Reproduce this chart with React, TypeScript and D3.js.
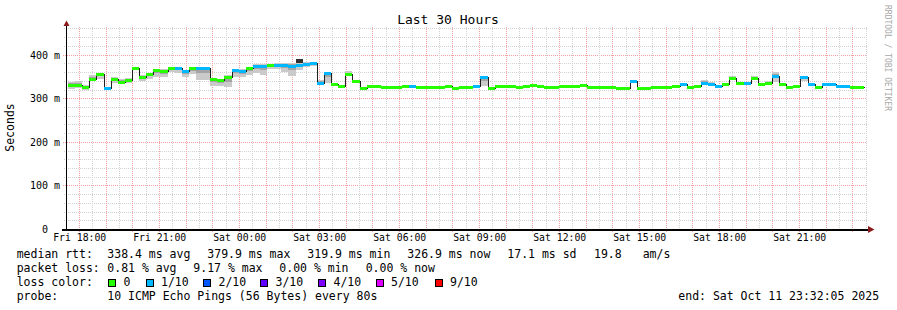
import React from "react";
import * as d3 from "d3";

const W = 897;
const H = 310;

const startTime = new Date(2025, 9, 10, 17, 32, 5);
const endTime = new Date(2025, 9, 11, 23, 32, 5);
const firstBin = new Date(2025, 9, 10, 17, 35, 28);
const binMinutes = 16;

// median rtt per 16-min bin (ms)
const medians = [
  331, 330, 326, 345, 355, 323, 344, 338, 342, 370,
  348, 355, 365, 363, 370, 369, 363, 369, 369, 369,
  343, 342, 348, 365, 363, 369, 374, 373, 376, 376,
  376, 375, 376, 378, 381, 336, 358, 332, 329, 355,
  340, 324, 329, 329, 325, 326, 326, 329, 329, 326,
  326, 326, 326, 329, 324, 326, 326, 329, 348, 324,
  329, 329, 329, 326, 328, 331, 329, 326, 326, 329,
  329, 329, 331, 326, 326, 326, 326, 323, 323, 339,
  323, 323, 326, 326, 326, 329, 333, 325, 329, 336,
  332, 329, 333, 347, 336, 334, 347, 333, 336, 352,
  332, 326, 329, 348, 332, 326, 332, 332, 329, 329, 326, 326,
];

// loss (in tenths) per bin
const losses = [
  0, 0, 0, 0, 0, 1, 0, 0, 0, 0,
  0, 0, 0, 0, 0, 1, 1, 0, 1, 1,
  0, 0, 0, 1, 1, 0, 1, 1, 0, 1,
  1, 1, 1, 1, 1, 1, 1, 0, 0, 0,
  0, 0, 0, 0, 0, 0, 0, 0, 1, 0,
  0, 0, 0, 0, 0, 0, 0, 1, 1, 0,
  0, 0, 0, 0, 0, 0, 0, 0, 0, 0,
  0, 0, 0, 0, 0, 0, 0, 0, 0, 1,
  0, 0, 0, 0, 0, 0, 1, 0, 0, 1,
  1, 1, 0, 0, 0, 1, 0, 0, 0, 1,
  0, 0, 0, 1, 1, 0, 1, 1, 1, 1, 0, 0,
];

// smoke: lowest / highest ping per bin (ms)
const smokeLo = [
  322, 324, 320, 340, 345, 320, 334, 334, 334, 365,
  340, 345, 349, 349, 361, 357, 349, 355, 342, 342,
  328, 327, 326, 349, 349, 353, 359, 353, 368, 366,
  360, 351, 365, 372, 375, 330, 335, 329, 327, 350,
  337, 323, 327, 327, 324, 325, 325, 327, 327, 325,
  325, 325, 325, 326, 323, 325, 325, 327, 329, 323,
  327, 327, 327, 325, 326, 329, 327, 325, 325, 327,
  327, 327, 329, 325, 325, 325, 325, 322, 322, 336,
  322, 322, 325, 325, 325, 327, 330, 324, 327, 332,
  330, 327, 330, 343, 333, 331, 344, 330, 333, 338,
  329, 325, 327, 340, 330, 325, 330, 330, 327, 327, 325, 325,
];
const smokeHi = [
  338, 340, 330, 353, 358, 325, 349, 345, 346, 372,
  353, 357, 368, 367, 372, 371, 365, 371, 372, 372,
  345, 345, 353, 368, 368, 371, 378, 378, 379, 380,
  380, 381, 380, 383, 383, 342, 360, 334, 331, 363,
  342, 326, 331, 331, 327, 328, 328, 331, 331, 328,
  328, 328, 328, 331, 326, 328, 328, 331, 350, 326,
  331, 331, 331, 328, 330, 333, 331, 328, 328, 331,
  331, 331, 333, 328, 328, 328, 328, 325, 325, 341,
  325, 325, 328, 328, 329, 331, 335, 327, 331, 342,
  338, 331, 335, 351, 338, 336, 351, 335, 340, 361,
  334, 328, 331, 350, 334, 328, 334, 334, 331, 331, 328, 328,
];

// dense inner smoke outlier
const darkBins = [32];
const darkLo = [380];
const darkHi = [391];

const lossColors = ["#26ff00", "#00b8ff", "#0059ff", "#5e00ff", "#7e00ff", "#dd00ff", "#ff0000"];
const lossLabels = ["0", "1/10", "2/10", "3/10", "4/10", "5/10", "9/10"];
const lossLegendX = [108.5, 146, 203.5, 260.5, 318.5, 376, 435];

const xTickLabels = ["Fri 18:00", "Fri 21:00", "Sat 00:00", "Sat 03:00", "Sat 06:00", "Sat 09:00", "Sat 12:00", "Sat 15:00", "Sat 18:00", "Sat 21:00"];
const firstLabelTime = new Date(2025, 9, 10, 18, 0, 0);
const yTickValues = [0, 100, 200, 300, 400];
const yTickLabels = ["0", "100", "200", "300", "400"];

const rttStats = [
  { t: "338.4 ms avg", x: 107.3 },
  { t: "379.9 ms max", x: 207.3 },
  { t: "319.9 ms min", x: 307.3 },
  { t: "326.9 ms now", x: 407.3 },
  { t: "17.1 ms sd", x: 507.3 },
  { t: "19.8", x: 594 },
  { t: "am/s", x: 642.7 },
];
const lossStats = [
  { t: "0.81 % avg", x: 107.3 },
  { t: "9.17 % max", x: 193.3 },
  { t: "0.00 % min", x: 279.3 },
  { t: "0.00 % now", x: 365.7 },
];

const MONO = "'DejaVu Sans Mono', monospace";

export default function App() {
  const x = d3.scaleTime().domain([startTime, endTime]).range([66.5, 866.5]);
  const y = d3.scaleLinear().domain([0, 462]).range([229, 27.6]);
  const binT = (i: number) => d3.timeMinute.offset(firstBin, i * binMinutes);
  const px = (i: number) => Math.round(x(binT(i)));
  const py = (v: number) => Math.round(y(v));

  const plotTop = 27;
  const plotLeft = 66.5;
  const plotRight = 866.5;

  const halfHours = d3.timeMinute.every(30)!.range(startTime, endTime);
  const hGrid = d3.range(20, 461, 20);

  const linePts: [Date, number][] = medians.map((m, i) => [binT(i), m]);
  linePts.push([binT(medians.length), medians[medians.length - 1]]);
  const line = d3
    .line<[Date, number]>()
    .x((d) => Math.round(x(d[0])) + 0.5)
    .y((d) => py(d[1]) + 0.5)
    .curve(d3.curveStepAfter);

  return (
    <div style={{ position: "fixed", left: 0, top: 0 }}>
      <svg width={W} height={H} style={{ display: "block", background: "#fff" }}>
        <rect x={0} y={0} width={W} height={H} fill="#ffffff" />
        {/* grid */}
        <g shapeRendering="crispEdges">
          {hGrid.map((v) => {
            const major = v % 100 === 0;
            const yy = py(v) + 0.5;
            return (
              <line
                key={"h" + v}
                x1={major ? 63 : 64}
                x2={plotRight}
                y1={yy}
                y2={yy}
                stroke={major ? "#f2a0a0" : "#d2d2d2"}
                strokeDasharray="1,1"
              />
            );
          })}
          {halfHours.map((t) => {
            const major = t.getMinutes() === 0;
            const xx = Math.round(x(t)) + 0.5;
            return (
              <line
                key={"v" + t.getTime()}
                x1={xx}
                x2={xx}
                y1={plotTop}
                y2={major ? 232 : 229}
                stroke={major ? "#f2a0a0" : "#d2d2d2"}
                strokeDasharray="1,1"
              />
            );
          })}
        </g>

        {/* smoke */}
        <g shapeRendering="crispEdges">
          {medians.map((m, i) => {
            const x0 = px(i);
            const x1 = px(i + 1);
            const lo = smokeLo[i];
            const hi = smokeHi[i];
            const ilo = m - (m - lo) * 0.45;
            const ihi = m + (hi - m) * 0.45;
            return (
              <g key={"s" + i}>
                <rect x={x0} width={x1 - x0} y={py(hi)} height={Math.max(1, py(lo) - py(hi))} fill="#cacaca" />
                <rect x={x0} width={x1 - x0} y={py(ihi)} height={Math.max(1, py(ilo) - py(ihi))} fill="#a4a4a4" />
              </g>
            );
          })}
          {darkBins.map((b, k) => (
            <rect
              key={"d" + b}
              x={px(b)}
              width={px(b + 1) - px(b)}
              y={py(darkHi[k])}
              height={py(darkLo[k]) - py(darkHi[k])}
              fill="#323232"
            />
          ))}
        </g>

        {/* median black line */}
        <path d={line(linePts) || ""} fill="none" stroke="#202020" strokeWidth={1} shapeRendering="crispEdges" />

        {/* loss-coloured median band */}
        <g shapeRendering="crispEdges">
          {medians.map((m, i) => {
            const x0 = px(i);
            const x1 = px(i + 1);
            return (
              <rect key={"m" + i} x={x0} width={x1 - x0} y={py(m) - 1} height={3} fill={lossColors[losses[i]]} />
            );
          })}
        </g>

        {/* axes */}
        <g shapeRendering="crispEdges">
          <line x1={plotLeft} x2={plotLeft} y1={229} y2={24} stroke="#000" strokeWidth={1} />
          <line x1={62} x2={869} y1={229.5} y2={229.5} stroke="#000" strokeWidth={2} />
        </g>
        <polygon points="63.5,26 69.5,26 66.5,20.5" fill="#8b1a1a" />
        <polygon points="868,226 868,233 874.5,229.5" fill="#8b1a1a" />

        {/* y tick labels */}
        <g fontFamily={MONO} fontSize={10} fill="#000">
          {yTickValues.map((v, i) => (
            <g key={"yl" + v}>
              <text x={48} y={py(v) + 3.8} textAnchor="end">
                {yTickLabels[i]}
              </text>
              {v !== 0 && (
                <text x={54} y={py(v) + 3.8}>
                  m
                </text>
              )}
            </g>
          ))}
        </g>

        {/* x tick labels */}
        <g fontFamily={MONO} fontSize={9.8} fill="#000">
          {xTickLabels.map((lab, k) => (
            <text key={lab} x={x(d3.timeHour.offset(firstLabelTime, 3 * k)) + 0.8} y={240.5} textAnchor="middle">
              {lab}
            </text>
          ))}
        </g>

        {/* title */}
        <text x={448} y={24} textAnchor="middle" fontFamily={MONO} fontSize={13} fill="#000">
          Last 30 Hours
        </text>

        {/* y axis title */}
        <text
          transform="translate(14,127.5) rotate(-90)"
          textAnchor="middle"
          fontFamily={MONO}
          fontSize={11.5}
          fill="#000"
        >
          Seconds
        </text>

        {/* watermark */}
        <text
          transform="translate(885,5) rotate(90)"
          fontFamily={MONO}
          fontSize={8}
          fill="#a8a8a8"
        >
          RRDTOOL / TOBI OETIKER
        </text>

        {/* legend */}
        <g fontFamily={MONO} fontSize={11.5} fill="#000">
          <text x={16.7} y={257.5}>median rtt:</text>
          {rttStats.map((s) => (
            <text key={s.t} x={s.x} y={257.5}>
              {s.t}
            </text>
          ))}
          <text x={16.7} y={271.7}>packet loss:</text>
          {lossStats.map((s) => (
            <text key={s.t} x={s.x} y={271.7}>
              {s.t}
            </text>
          ))}
          <text x={16.7} y={285.7}>loss color:</text>
          {lossLabels.map((lab, i) => (
            <g key={lab}>
              <rect
                x={lossLegendX[i]}
                y={279.5}
                width={7}
                height={7}
                fill={lossColors[i]}
                stroke="#000"
                strokeWidth={1}
                shapeRendering="crispEdges"
              />
              <text x={lossLegendX[i] + 15} y={285.7}>
                {lab}
              </text>
            </g>
          ))}
          <text x={16.7} y={299.7}>probe:</text>
          <text x={107.3} y={299.7}>10 ICMP Echo Pings (56 Bytes) every 80s</text>
          <text x={678.3} y={299.7}>end: Sat Oct 11 23:32:05 2025</text>
        </g>
      </svg>
    </div>
  );
}
